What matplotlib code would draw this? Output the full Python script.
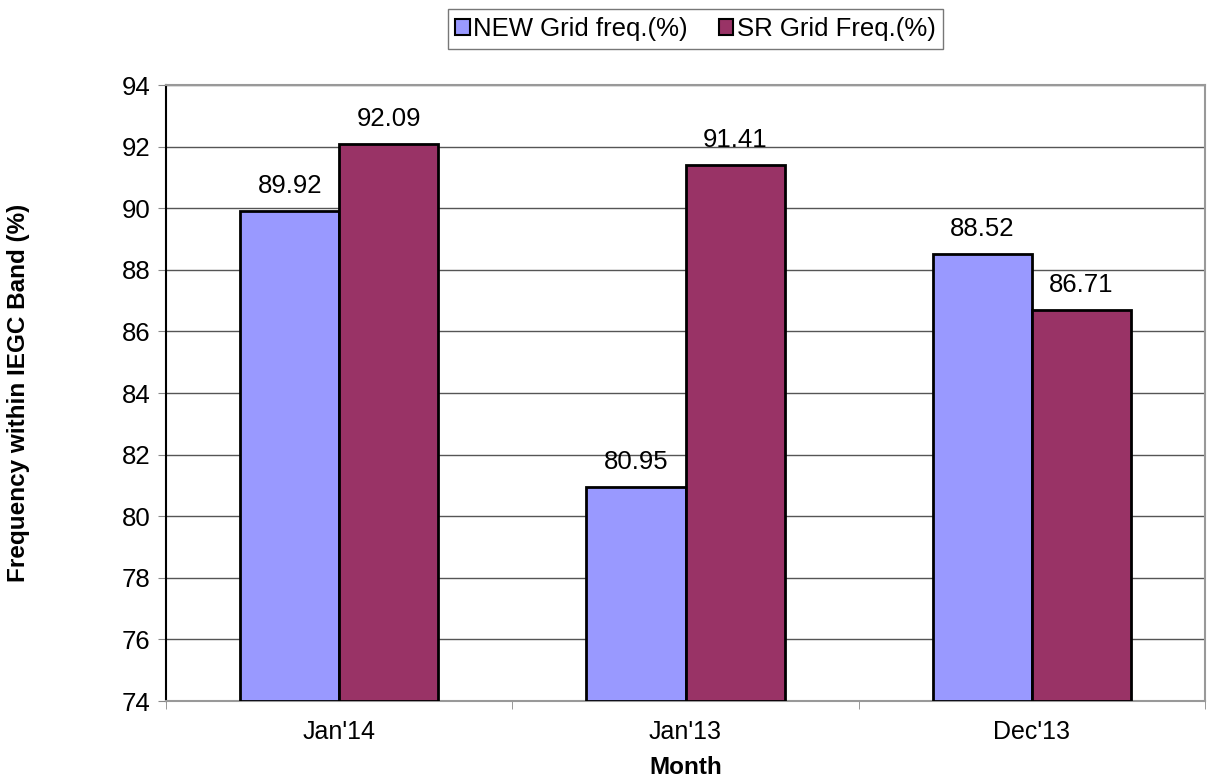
import numpy as np
import matplotlib.pyplot as plt
from matplotlib.patches import Patch

months = ["Jan'14", "Jan'13", "Dec'13"]
new_grid = [89.92, 80.95, 88.52]
sr_grid = [92.09, 91.41, 86.71]
series_names = ["NEW Grid freq.(%)", "SR Grid Freq.(%)"]
colors = ["#9999FF", "#993366"]

plt.rcParams['font.family'] = ['Liberation Sans', 'DejaVu Sans']

fig = plt.figure(figsize=(12.08, 7.77), dpi=100)
ax = fig.add_axes([0.1374, 0.0978, 0.8602, 0.7928])

x = np.arange(len(months))
w = 0.286
ax.bar(x - w / 2, np.array(new_grid) - 74, w, bottom=74,
       color=colors[0], edgecolor='black', linewidth=2, zorder=3)
ax.bar(x + w / 2, np.array(sr_grid) - 74, w, bottom=74,
       color=colors[1], edgecolor='black', linewidth=2, zorder=3)

for xs, vals in ((x - w / 2, new_grid), (x + w / 2, sr_grid)):
    for xi, v in zip(xs, vals):
        ax.annotate(f"{v:.2f}", xy=(xi, v), xytext=(0, 9),
                    textcoords='offset points', ha='center', va='bottom',
                    fontsize=18.5)

ax.set_xlim(-0.5, 2.5)
ax.set_ylim(74, 94)
ax.set_yticks(np.arange(74, 95, 2))
ax.yaxis.grid(True, color='#555555', linewidth=1, zorder=0)
ax.set_axisbelow(True)

ax.set_xticks(x)
ax.set_xticklabels(months, fontsize=18)
ax.set_xticks([-0.5, 0.5, 1.5, 2.5], minor=True)
ax.tick_params(axis='x', which='major', length=0, pad=14)
ax.tick_params(axis='x', which='minor', length=6, color='#888888')
ax.tick_params(axis='y', labelsize=18.5, length=6, color='#888888', pad=5)

for side in ('top', 'right', 'bottom'):
    ax.spines[side].set_color('#999999')
    ax.spines[side].set_linewidth(1.5)
ax.spines['left'].set_color('black')
ax.spines['left'].set_linewidth(1.5)

ax.set_xlabel("Month", fontsize=17.5, fontweight='bold', labelpad=8)
ax.set_ylabel("Frequency within IEGC Band (%)", fontsize=17.5,
              fontweight='bold', labelpad=66)

handles = [Patch(facecolor=c, edgecolor='black', linewidth=1.5) for c in colors]
leg = fig.legend(handles, series_names, loc='center', ncol=2,
                 bbox_to_anchor=(0.5758, 0.9627), fontsize=18.5,
                 frameon=True, fancybox=False, edgecolor='#555555',
                 handlelength=0.55, handleheight=0.55, handletextpad=0.15,
                 columnspacing=1.2, borderpad=0.3, borderaxespad=0)
leg.get_frame().set_linewidth(1)

fig.savefig("out.png", dpi=100)
